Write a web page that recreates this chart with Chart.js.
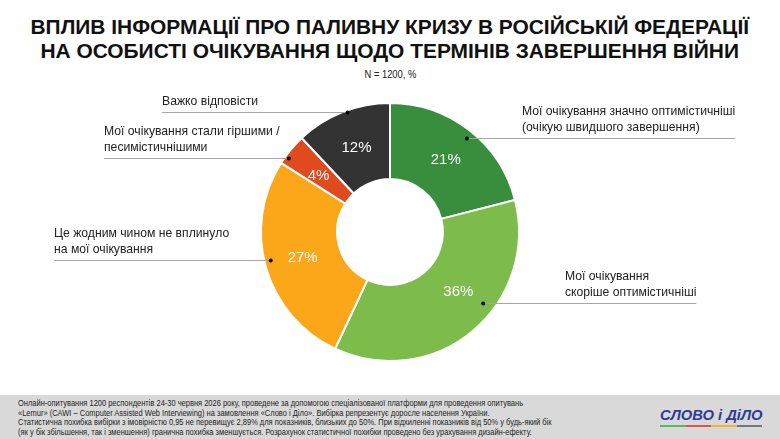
<!DOCTYPE html>
<html>
<head>
<meta charset="utf-8">
<script src="https://cdn.jsdelivr.net/npm/chart.js@4"></script>
<style>
  body { margin: 0; background: #fff; font-family: "Liberation Sans", Arial, sans-serif; }
  #page { position: relative; width: 780px; height: 439px; overflow: hidden; }
  .tl { position: absolute; left: 0; width: 780px; text-align: center; }
  .tl span { display: inline-block; white-space: nowrap; font-weight: bold; font-size: 21px; line-height: 24px; color: #111; }
  #t1 { top: 14.5px; }
  #t2 { top: 39px; }
  #sub { position: absolute; top: 64px; left: 0; width: 780px; text-align: center; }
  #sub span { display: inline-block; font-size: 11px; color: #222; transform: scaleX(0.85); }
  #chartBox { position: absolute; top: 0; left: 0; width: 780px; height: 395px; }
  #footer { position: absolute; top: 395px; left: 0; width: 780px; height: 44px; background: #d9d9d9; }
  #note { position: absolute; left: 18px; top: 4px; font-size: 8.5px; line-height: 9.7px; color: #222;
    white-space: nowrap; transform-origin: 0 0; }
  #logo { position: absolute; left: 660px; top: 11px; width: 102px; }
  #logo .txt { display: inline-block; font-weight: bold; font-style: italic; font-size: 14px; color: #2d3b96;
    white-space: nowrap; line-height: 15px; transform-origin: 0 0; }
  #logo .bar { display: flex; height: 2px; margin-top: 1px; }
  #logo .bar span { flex: 1; }
</style>
</head>
<body>
<div id="page">
  <div class="tl" id="t1"><span>ВПЛИВ ІНФОРМАЦІЇ ПРО ПАЛИВНУ КРИЗУ В РОСІЙСЬКІЙ ФЕДЕРАЦІЇ</span></div>
  <div class="tl" id="t2"><span>НА ОСОБИСТІ ОЧІКУВАННЯ ЩОДО ТЕРМІНІВ ЗАВЕРШЕННЯ ВІЙНИ</span></div>
  <div id="sub"><span>N = 1200, %</span></div>
  <div id="chartBox"><canvas id="donut" width="780" height="395"></canvas></div>
  <div id="footer">
    <div id="note">
      <span id="noteFirst">Онлайн-опитування 1200 респондентів 24-30 червня 2026 року, проведене за допомогою спеціалізованої платформи для проведення опитувань</span><br>
      «Lemur» (CAWI – Computer Assisted Web Interviewing) на замовлення «Слово і Діло». Вибірка репрезентує доросле населення України.<br>
      Статистична похибка вибірки з імовірністю 0,95 не перевищує 2,89% для показників, близьких до 50%. При відхиленні показників від 50% у будь-який бік<br>
      (як у бік збільшення, так і зменшення) гранична похибка зменшується. Розрахунок статистичної похибки проведено без урахування дизайн-ефекту.
    </div>
    <div id="logo">
      <div class="txt">СЛОВО і ДіЛО</div>
      <div class="bar"><span style="background:#5cb85c"></span><span style="background:#e0524f"></span><span style="background:#f3b431"></span><span style="background:#6f7787"></span></div>
    </div>
  </div>
</div>
<script>
// answers, clockwise from 12 o'clock
const categories = [
  ['Мої очікування значно оптимістичніші', '(очікую швидшого завершення)'],
  ['Мої очікування', 'скоріше оптимістичніші'],
  ['Це жодним чином не вплинуло', 'на мої очікування'],
  ['Мої очікування стали гіршими /', 'песимістичнішими'],
  ['Важко відповісти']
];
const shares = [21, 36, 27, 4, 12];
const colors = ['#388e3c', '#7dbc4b', '#fca61a', '#df4a1f', '#333333'];

// narrow-font look: squeeze title / footer text to the reference widths
const t1 = document.querySelector('#t1 span');
const k = 718 / t1.offsetWidth;
document.querySelectorAll('.tl span').forEach(s => { s.style.transform = 'scaleX(' + k + ')'; });
const note = document.getElementById('note');
note.style.transform = 'scaleX(' + (505 / document.getElementById('noteFirst').offsetWidth) + ')';
const logoTxt = document.querySelector('#logo .txt');
logoTxt.style.transform = 'scaleX(' + (102 / logoTxt.offsetWidth) + ')';

// callout placement: side, text x, position along slice (t) and radius factor (r) of the dot,
// tv = position along slice of the value label
const callouts = [
  { side: 'right', x: 522, t: 0.52, r: 0.94, tv: 0.5 },
  { side: 'right', x: 565, t: 0.40, r: 0.91, tv: 0.43 },
  { side: 'left', x: 54, t: 0.53, r: 0.95, tv: 0.5 },
  { side: 'left', x: 104, t: 0.26, r: 0.97, tv: 0.4 },
  { side: 'left', x: 162, t: 0.55, r: 0.99, tv: 0.5 }
];

const calloutPlugin = {
  id: 'callouts',
  afterDatasetsDraw(chart) {
    const ctx = chart.ctx;
    const arcs = chart.getDatasetMeta(0).data;
    ctx.save();
    arcs.forEach((arc, i) => {
      const p = arc.getProps(['x', 'y', 'startAngle', 'endAngle', 'innerRadius', 'outerRadius'], true);
      const c = callouts[i];
      const span = p.endAngle - p.startAngle;

      // value inside the ring
      const av = p.startAngle + span * c.tv;
      const rm = (p.innerRadius + p.outerRadius) / 2;
      ctx.fillStyle = '#fff';
      ctx.font = '15px "Liberation Sans", Arial, sans-serif';
      ctx.textAlign = 'center';
      ctx.textBaseline = 'middle';
      ctx.fillText(shares[i] + '%', p.x + Math.cos(av) * rm, p.y + Math.sin(av) * rm);

      // dot + leader line
      const a = p.startAngle + span * c.t;
      const rd = p.outerRadius * c.r;
      const dx = p.x + Math.cos(a) * rd;
      const dy = Math.round(p.y + Math.sin(a) * rd) + 0.5;
      ctx.font = '12.2px "Liberation Sans", Arial, sans-serif';
      const w = Math.max(...categories[i].map(s => ctx.measureText(s).width));
      ctx.strokeStyle = '#a6a6a6';
      ctx.lineWidth = 1;
      ctx.beginPath();
      if (c.side === 'right') { ctx.moveTo(dx, dy); ctx.lineTo(c.x + w, dy); }
      else { ctx.moveTo(c.x, dy); ctx.lineTo(dx, dy); }
      ctx.stroke();
      ctx.fillStyle = '#000';
      ctx.beginPath();
      ctx.arc(dx, dy, 2, 0, Math.PI * 2);
      ctx.fill();

      // label text above the line
      ctx.fillStyle = '#222';
      ctx.textAlign = 'left';
      ctx.textBaseline = 'alphabetic';
      const lines = categories[i];
      lines.forEach((s, n) => {
        ctx.fillText(s, c.x, dy - 8 - (lines.length - 1 - n) * 15.5);
      });
    });
    ctx.restore();
  }
};

new Chart(document.getElementById('donut'), {
  type: 'doughnut',
  data: {
    labels: categories.map(l => l.join(' ')),
    datasets: [{
      data: shares,
      backgroundColor: colors,
      borderColor: '#ffffff',
      borderWidth: 2
    }]
  },
  options: {
    responsive: false,
    animation: false,
    cutout: '41%',
    layout: { padding: { top: 102, bottom: 33, left: 0, right: 0 } },
    plugins: { legend: { display: false }, tooltip: { enabled: false } }
  },
  plugins: [calloutPlugin]
});
</script>
</body>
</html>
